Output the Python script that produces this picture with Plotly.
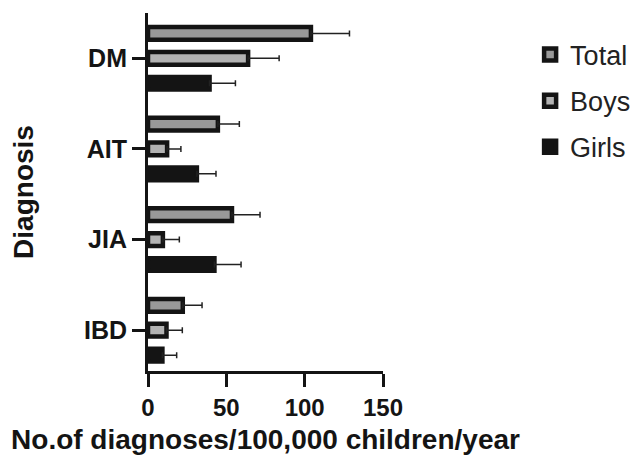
import plotly.graph_objects as go

categories = ["IBD", "JIA", "AIT", "DM"]
total_vals = [22.2, 53.6, 44.6, 104.0]
total_err = [12.3, 17.9, 13.7, 24.6]
boys_vals = [11.8, 9.5, 12.2, 63.9]
boys_err = [10.1, 10.5, 8.8, 19.8]
girls_vals = [9.2, 42.4, 31.2, 39.3]
girls_err = [9.1, 17.0, 12.2, 16.5]
x_ticks = [0, 50, 100, 150]

FONT = "Liberation Sans, Arial, sans-serif"
INK = "#141414"

series = [
    ("Girls", girls_vals, girls_err, INK, 3),
    ("Boys", boys_vals, boys_err, "#b3b3b3", 2),
    ("Total", total_vals, total_err, "#999999", 1),
]

fig = go.Figure()
for name, vals, err, fill, rank in series:
    fig.add_trace(go.Bar(
        name=name, y=categories, x=vals, orientation="h",
        legendgroup=name, legendrank=rank,
        marker=dict(color=fill, line=dict(color=INK, width=4.5)),
        error_x=dict(type="data", symmetric=False, array=err,
                     arrayminus=[0] * len(err), color="#222222",
                     thickness=1.5, width=3),
    ))

# page body has an 8px margin, so the figure is sized to fit the 638x455 window
fig.update_layout(
    width=630, height=447,
    margin=dict(l=140, r=255, t=5, b=84, autoexpand=False),
    paper_bgcolor="white", plot_bgcolor="white",
    barmode="group", bargap=0.175, bargroupgap=0.49,
    font=dict(family=FONT, color=INK),
    showlegend=True,
    legend=dict(x=1.626, y=0.951, xanchor="left", yanchor="top",
                traceorder="grouped", tracegroupgap=8,
                font=dict(family=FONT, size=27, color="#222222"),
                bgcolor="rgba(0,0,0,0)"),
    xaxis=dict(range=[0, 150], tickvals=x_ticks, ticktext=[str(v) for v in x_ticks],
               showgrid=False, zeroline=False,
               showline=True, linewidth=3, linecolor=INK,
               ticks="outside", ticklen=13, tickwidth=3, tickcolor=INK,
               tickfont=dict(family=FONT, size=24, weight="bold", color=INK),
               title=dict(text="No.of diagnoses/100,000 children/year", standoff=18,
                          font=dict(family=FONT, size=28, weight="bold", color=INK))),
    yaxis=dict(type="category", categoryorder="array", categoryarray=categories,
               range=[-0.45, 3.5],
               showgrid=False, zeroline=False,
               showline=True, linewidth=3, linecolor=INK,
               ticks="outside", ticklen=13, tickwidth=3, tickcolor=INK,
               tickfont=dict(family=FONT, size=25, weight="bold", color=INK),
               title=dict(text="Diagnosis", standoff=44,
                          font=dict(family=FONT, size=28, weight="bold", color=INK))),
)

fig.write_html("out.html")
